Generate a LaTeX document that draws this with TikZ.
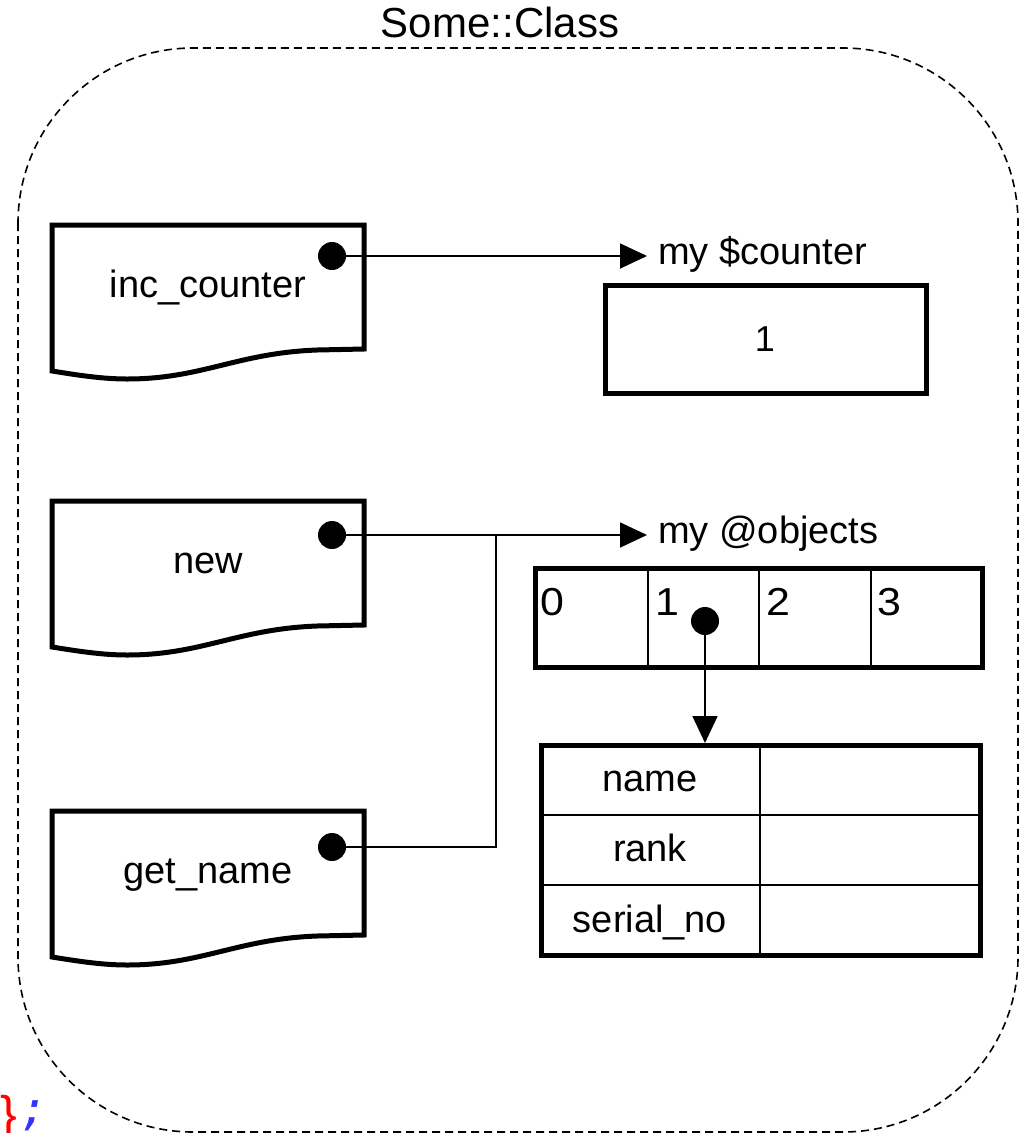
\documentclass[tikz,border=0pt]{standalone}
\usepackage{fontspec}
\setmainfont{Liberation Sans}
\newfontfamily\codefont{DejaVu Sans Mono}
\usetikzlibrary{arrows.meta}
\begin{document}
\begin{tikzpicture}[x=1pt,y=-1pt,
  frame/.style={line width=1.6pt, dash pattern=on 8pt off 5pt, rounded corners=175pt},
  boxln/.style={line width=5pt, line join=miter},
  divln/.style={line width=2.5pt},
  dotnode/.style={circle, fill=black, inner sep=0pt, minimum size=28pt},
  lbl/.style={font=\fontsize{38}{42}\selectfont, inner sep=0pt},
  digit/.style={font=\fontsize{39}{42}\selectfont, inner sep=0pt, anchor=base west},
  conn/.style={line width=1.8pt},
  tipend/.style={-{Triangle[length=27pt,width=25pt]}},
  pics/docpic/.style={code={
    \draw[boxln, fill=white] (0,0) -- (312,0) -- (312,124) -- (265,125)
      .. controls (185,128) and (150,154) .. (75,154)
      .. controls (50,154) and (25,150) .. (0,146) -- cycle;
    \node[lbl, anchor=base] (-text) at (156,72) {#1};
  }},
]
\useasboundingbox (0,0) rectangle (1023,1133);

% class frame
\draw[frame] (18,48) rectangle (1018,1132);
\node[font=\fontsize{42}{46}\selectfont, inner sep=0pt, anchor=base] (title) at (500,37) {Some::Class};

% subroutine documents
\pic (inc) at (52,225) {docpic={inc\_counter}};
\pic (new) at (52,501) {docpic={new}};
\pic (get) at (52,811) {docpic={get\_name}};
\node[dotnode] (incdot) at (332,256) {};
\node[dotnode] (newdot) at (332,535) {};
\node[dotnode] (getdot) at (332,847) {};

% my $counter
\coordinate (cntin) at (647,256);
\node[lbl, anchor=base west] (cntlbl) at (658,264) {my \$counter};
\node[draw, boxln, minimum width=321pt, minimum height=108pt, inner sep=0pt] (cntbox) at (765.5,339) {};
\node[font=\fontsize{36}{40}\selectfont, inner sep=0pt, anchor=base] (cntval) at (765,351.5) {1};

% my @objects
\coordinate (objin) at (647,535);
\coordinate (joint) at (496,535);
\node[lbl, anchor=base west] (objlbl) at (658,543) {my @objects};
\node[draw, boxln, minimum width=447pt, minimum height=99pt, inner sep=0pt] (arr) at (759,617.5) {};
\draw[divln] (648,568) -- (648,667) (759,568) -- (759,667) (871,568) -- (871,667);
\node[digit] (c0) at (540,615) {\scalebox{1.1}[1]{0}};
\node[digit] (c1) at (655,615) {\scalebox{1.1}[1]{1}};
\node[digit] (c2) at (766,615) {\scalebox{1.1}[1]{2}};
\node[digit] (c3) at (877,615) {\scalebox{1.1}[1]{3}};
\node[dotnode] (arrdot) at (705,621) {};

% hash record
\node[draw, boxln, minimum width=439pt, minimum height=210pt, inner sep=0pt] (tbl) at (760.5,850) {};
\draw[divln] (760,745) -- (760,955) (541,815) -- (980,815) (541,885) -- (980,885);
\node[lbl, anchor=base] (fname) at (650,791) {name};
\node[lbl, anchor=base] (frank) at (650,861) {rank};
\node[lbl, anchor=base] (fserial) at (650,932) {serial\_no};

% connectors
\draw[conn, tipend] (incdot) -- (cntin);
\draw[conn, tipend] (newdot) -- (objin);
\draw[conn] (getdot) -| (joint);
\coordinate (tbltop) at (705,743);
\draw[conn, tipend] (arrdot) -- (tbltop);

% stray code fragment
\node[font=\fontsize{50}{54}\selectfont, text=red, inner sep=0pt, anchor=north west] (brace) at (0,1095) {\}};
\node[font=\codefont\itshape\fontsize{46}{50}\selectfont, text=blue!80!white, inner sep=0pt, anchor=north west] (semi) at (20,1100) {;};
\end{tikzpicture}
\end{document}
